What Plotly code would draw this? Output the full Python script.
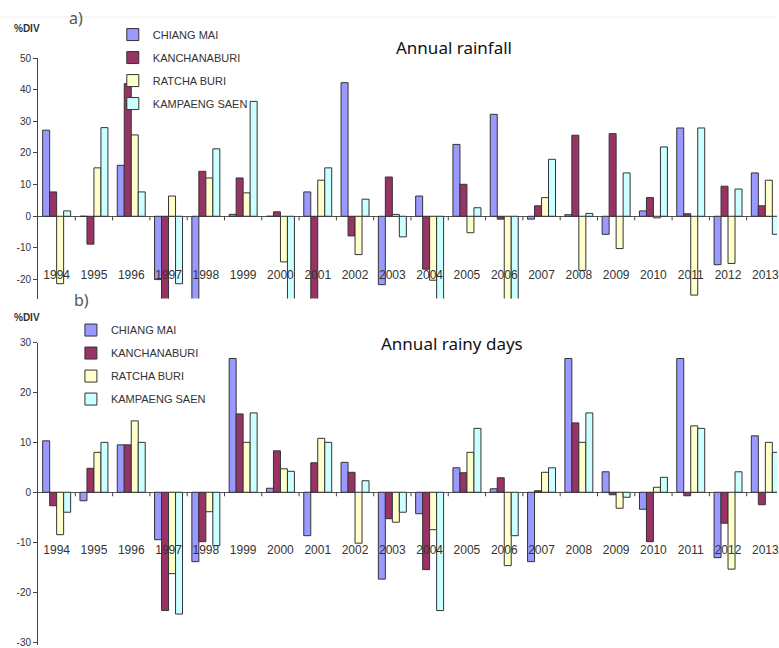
import plotly.graph_objects as go

years = [str(y) for y in range(1994, 2014)]
series_names = ["CHIANG MAI", "KANCHANABURI", "RATCHA BURI", "KAMPAENG SAEN"]

# a) Annual rainfall (%DIV)
rain_chiang_mai = [27.2, 0.0, 16.1, -20.0, -32.0, 0.6, 0.0, 7.7, 42.2, -21.6,
                   6.4, 22.7, 32.2, -0.9, 0.5, -5.7, 1.7, 27.9, -15.3, 13.7]
rain_kanchanaburi = [7.7, -8.8, 41.9, -32.0, 14.2, 12.1, 1.4, -32.0, -6.2, 12.4,
                     -16.7, 10.1, -0.9, 3.3, 25.6, 26.1, 5.9, 0.8, 9.5, 3.3]
rain_ratcha_buri = [-21.3, 15.3, 25.7, 6.4, 12.1, 7.4, -14.4, 11.4, -12.1, 0.6,
                    -20.2, -5.2, -32.0, 5.9, -17.1, -10.2, -0.5, -24.9, -14.9, 11.4]
rain_kampaeng_saen = [1.7, 28.0, 7.7, -21.3, 21.3, 36.3, -32.0, 15.3, 5.4, -6.5,
                      -32.0, 2.7, -32.0, 18.0, 0.9, 13.7, 21.9, 27.9, 8.6, -5.7]

# b) Annual rainy days (%DIV)
days_chiang_mai = [10.3, -1.7, 9.5, -9.5, -13.9, 26.8, 0.8, -8.7, 6.0, -17.4,
                   -4.3, 4.9, 0.7, -13.9, 26.8, 4.1, -3.4, 26.8, -13.1, 11.3]
days_kanchanaburi = [-2.7, 4.8, 9.5, -23.7, -9.9, 15.7, 8.3, 5.9, 4.0, -5.3,
                     -15.5, 3.9, 2.9, 0.3, 13.9, -0.5, -9.9, -0.7, -6.2, -2.5]
days_ratcha_buri = [-8.5, 8.0, 14.3, -16.3, -3.9, 10.0, 4.7, 10.8, -10.2, -6.0,
                    -7.5, 8.0, -14.7, 4.0, 10.0, -3.2, 1.0, 13.3, -15.4, 10.0]
days_kampaeng_saen = [-4.0, 10.0, 10.0, -24.4, -10.7, 15.9, 4.2, 10.0, 2.3, -4.0,
                      -23.7, 12.8, -8.7, 4.9, 15.9, -1.0, 3.0, 12.8, 4.1, 8.0]

rain_ticks = [50, 40, 30, 20, 10, 0, -10, -20]
days_ticks = [30, 20, 10, 0, -10, -20, -30]

colors = ["#9999FF", "#993366", "#FFFFCC", "#CCFFFF"]

W, H = 779, 648
ML, MR, MT, MB = 38, 0, 58, 2
PW, PH = W - ML - MR, H - MT - MB


def px(xp):
    return (xp - ML) / PW


def py(yp):
    return 1 - (yp - MT) / PH


fig = go.Figure()

rain = [rain_chiang_mai, rain_kanchanaburi, rain_ratcha_buri, rain_kampaeng_saen]
days = [days_chiang_mai, days_kanchanaburi, days_ratcha_buri, days_kampaeng_saen]

for i, (name, vals) in enumerate(zip(series_names, rain)):
    fig.add_trace(go.Bar(
        x=years, y=vals, name=name, xaxis="x", yaxis="y",
        marker=dict(color=colors[i], line=dict(color="#333333", width=1)),
        legend="legend", legendgroup="a" + str(i),
    ))
for i, (name, vals) in enumerate(zip(series_names, days)):
    fig.add_trace(go.Bar(
        x=years, y=vals, name=name, xaxis="x2", yaxis="y2",
        marker=dict(color=colors[i], line=dict(color="#333333", width=1)),
        legend="legend2", legendgroup="b" + str(i),
    ))

tickfont = dict(family="Arial, Liberation Sans", size=10, color="#333333")
xfont = dict(family="Arial, Liberation Sans", size=12, color="#333333")
xr = [-0.5, -0.5 + PW / 37.4]

fig.update_layout(
    width=W, height=H,
    margin=dict(l=ML, r=MR, t=MT, b=MB),
    paper_bgcolor="white", plot_bgcolor="white",
    barmode="group", bargap=0.25, bargroupgap=0,
    xaxis=dict(domain=[0, 1], anchor="free", position=py(266), range=xr,
               showline=False, ticks="", showgrid=False, zeroline=False,
               tickfont=xfont, tickangle=0, ticklabeloverflow="allow"),
    yaxis=dict(domain=[py(299), 1], anchor="x", range=[-26, 50],
               tickvals=rain_ticks, ticktext=[str(v) for v in rain_ticks],
               showline=True, linecolor="#444444",
               linewidth=1, ticks="outside", ticklen=4, tickcolor="#444444",
               showgrid=False, zeroline=True, zerolinecolor="#555555",
               zerolinewidth=1, tickfont=tickfont, ticklabeloverflow="allow"),
    xaxis2=dict(domain=[0, 1], anchor="free", position=py(542), range=xr,
                showline=False, ticks="", showgrid=False, zeroline=False,
                tickfont=xfont, tickangle=0, ticklabeloverflow="allow"),
    yaxis2=dict(domain=[py(645.5), py(343)], anchor="x2", range=[-30.5, 30],
                tickvals=days_ticks, ticktext=[str(v) for v in days_ticks],
                showline=True, linecolor="#444444",
                linewidth=1, ticks="outside", ticklen=4, tickcolor="#444444",
                showgrid=False, zeroline=True, zerolinecolor="#555555",
                zerolinewidth=1, tickfont=tickfont, ticklabeloverflow="allow"),
    legend=dict(x=px(113), y=py(20), xanchor="left", yanchor="top",
                bgcolor="rgba(0,0,0,0)", tracegroupgap=4,
                font=dict(family="Arial, Liberation Sans", size=11, color="#333333")),
    legend2=dict(x=px(71), y=py(316), xanchor="left", yanchor="top",
                 bgcolor="rgba(0,0,0,0)", tracegroupgap=4,
                 font=dict(family="Arial, Liberation Sans", size=11, color="#333333")),
    showlegend=True,
)

# small tick marks on the zero line between year groups
shapes = []
for k in range(len(years)):
    shapes.append(dict(type="line", xref="x", yref="y", x0=k + 0.5, x1=k + 0.5,
                       y0=0, y1=-1.3, line=dict(color="#444444", width=1)))
    shapes.append(dict(type="line", xref="x2", yref="y2", x0=k + 0.5, x1=k + 0.5,
                       y0=0, y1=-0.8, line=dict(color="#444444", width=1)))
shapes.append(dict(type="line", xref="paper", yref="paper", x0=px(0), x1=px(W),
                   y0=py(17), y1=py(17), line=dict(color="#eeeeee", width=1)))
fig.update_layout(shapes=shapes)

ann_font_b = dict(family="Arial, Liberation Sans", size=10, color="#333333")
title_font = dict(family="Noto Sans", size=17, color="#111111")
lab_font = dict(family="Noto Sans", size=16, color="#555555")
annotations = [
    dict(text="<b>%DIV</b>", x=px(12), y=py(28), xanchor="left", yanchor="middle", font=ann_font_b),
    dict(text="<b>%DIV</b>", x=px(12), y=py(318), xanchor="left", yanchor="middle", font=ann_font_b),
    dict(text="Annual rainfall", x=px(455), y=py(47), xanchor="center", yanchor="middle", font=title_font),
    dict(text="Annual rainy days", x=px(453), y=py(344), xanchor="center", yanchor="middle", font=title_font),
    dict(text="a)", x=px(76), y=py(18), xanchor="center", yanchor="middle", font=lab_font),
    dict(text="b)", x=px(82), y=py(300), xanchor="center", yanchor="middle", font=lab_font),
]
for a in annotations:
    a.update(xref="paper", yref="paper", showarrow=False)
fig.update_layout(annotations=annotations)

fig.write_html("out.html", config={"displayModeBar": False},
               post_script="document.body.style.margin='0';")
